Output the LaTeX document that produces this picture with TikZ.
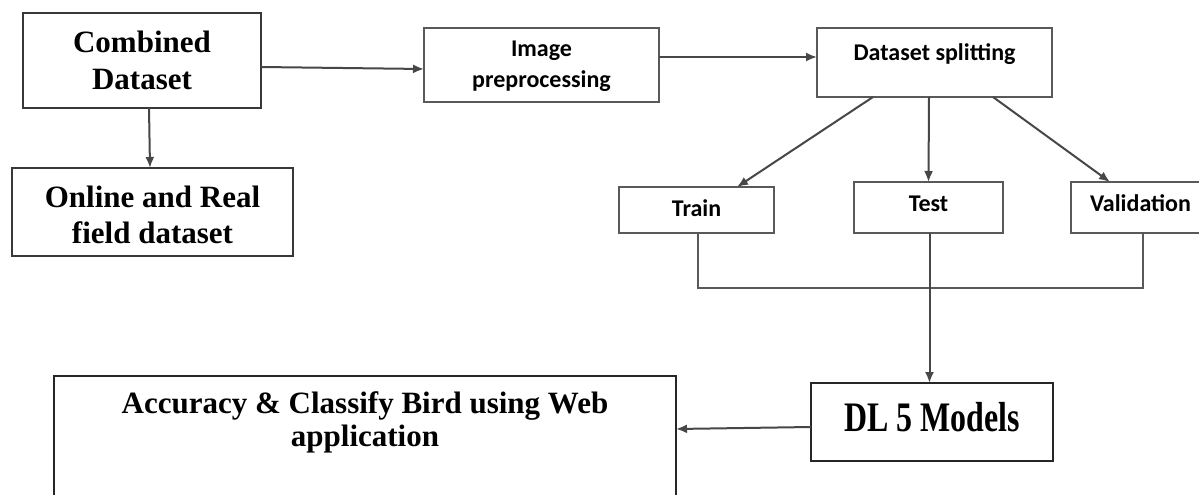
\documentclass[tikz,border=0pt]{standalone}
\usepackage{fontspec}
\setmainfont{Liberation Serif}
\newfontfamily\calib{Carlito}
\newfontfamily\condserif[FakeStretch=0.76]{Liberation Serif}
\usetikzlibrary{arrows.meta}
\tikzset{
  x=1pt, y=-1pt,
  boxbase/.style={draw=black!78, line width=2pt, rectangle, inner sep=0pt, outer sep=0pt, align=center},
  serifbox/.style={boxbase, font=\fontsize{31}{37}\selectfont\bfseries},
  sansbox/.style={boxbase, draw=black!65, font=\fontsize{24}{30}\selectfont\calib\bfseries},
  arr/.style={draw=black!72, line width=2pt, -{Latex[length=11pt,width=9pt]}},
  conn/.style={draw=black!65, line width=2pt},
}
\begin{document}
\begin{tikzpicture}
\useasboundingbox (0,0) rectangle (1199,495);
\fill[white] (0,0) rectangle (1199,495);

\node[serifbox, minimum width=238pt, minimum height=95pt] (comb) at (142,60.5) {Combined\\Dataset};
\node[serifbox, minimum width=281pt, minimum height=88pt, text height=22pt, text depth=32pt, font=\fontsize{31}{36}\selectfont\bfseries] (online) at (152.5,212) {\parbox[t]{270pt}{\centering Online and Real\\field dataset}};
\node[sansbox, minimum width=235pt, minimum height=74pt, text height=16pt, text depth=32pt] (img) at (541.5,65) {\parbox[t]{220pt}{\centering Image\\preprocessing}};
\node[sansbox, minimum width=235pt, minimum height=69pt, text height=16pt, text depth=21pt] (split) at (934.5,62.5) {Dataset splitting};
\node[sansbox, minimum width=155pt, minimum height=46pt, text height=16pt, text depth=4pt] (train) at (696.5,210) {Train};
\node[sansbox, minimum width=149pt, minimum height=51pt, text height=16pt, text depth=9pt] (test) at (928.5,207.5) {Test};
\node[sansbox, minimum width=139pt, minimum height=51pt, text height=16pt, text depth=9pt] (valid) at (1140.5,207.5) {Validation};
\node[boxbase, draw=black!85, minimum width=242pt, minimum height=78pt, text height=28pt, text depth=10pt, font=\fontsize{42}{46}\selectfont\condserif\bfseries] (dl) at (932,422) {DL 5 Models};
\node[boxbase, draw=black!85, minimum width=622pt, minimum height=124pt, text height=22pt, text depth=72pt, font=\fontsize{31}{33}\selectfont\bfseries] (acc) at (365,438)
  {\parbox[t]{600pt}{\centering Accuracy \& Classify Bird using Web\\application}};

\draw[arr] ([xshift=7pt]comb.south) -- ([xshift=-2.5pt]online.north);
\draw[arr] ([yshift=-6.5pt]comb.east) -- ([yshift=-4pt]img.west);
\draw[arr] ([yshift=8pt]img.east) -- ([yshift=5.5pt]split.west);
\draw[arr] ([xshift=-61.5pt]split.south) -- ([xshift=40.5pt]train.north);
\draw[arr] ([xshift=-5.5pt]split.south) -- (test.north);
\draw[arr] ([xshift=58.5pt]split.south) -- ([xshift=-30.5pt]valid.north);
\draw[conn] ([xshift=1.5pt]train.south) -- ++(0,55) -| ([xshift=2.5pt]valid.south);
\draw[arr] ([xshift=1pt]test.south) -- ([xshift=1pt]test.south |- dl.north);
\draw[arr] ([yshift=-5pt]dl.west) -- ([yshift=9pt]acc.east);
\end{tikzpicture}
\end{document}
